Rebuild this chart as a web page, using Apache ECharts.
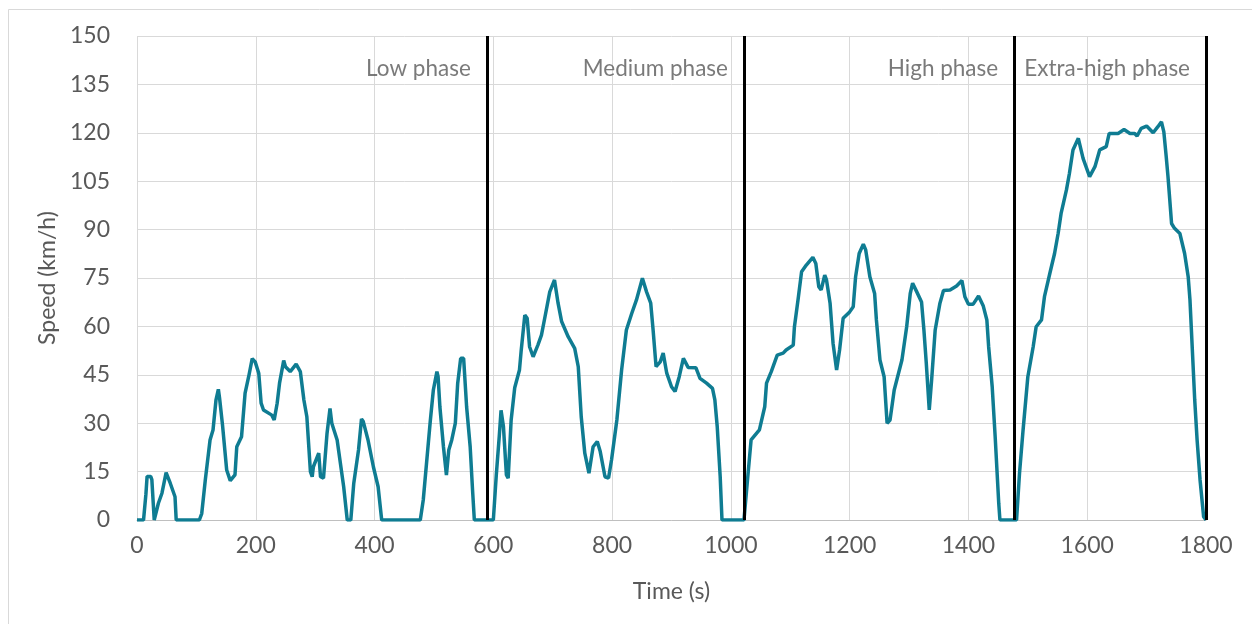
<!DOCTYPE html>
<html>
<head>
<meta charset="utf-8">
<script src="https://cdn.jsdelivr.net/npm/echarts@6/dist/echarts.min.js"></script>
<style>
    html, body { margin: 0; padding: 0; background: #fff; }
    #chart { width: 1252px; height: 624px; }
</style>
</head>
<body>
<div id="chart"></div>
<script>
// WLTC speed trace, one pair of arrays per phase
const lowTime = [0, 11, 15, 17, 23, 25, 29, 30, 36, 42, 49, 56, 64, 66, 105, 109, 115, 123, 128, 133, 137, 139, 144, 151, 157, 165, 168, 176, 182, 188, 194, 199, 205, 209, 213, 227, 231, 236, 240, 247, 250, 258, 268, 275, 281, 286, 292, 295, 297, 306, 309, 314, 320, 325, 328, 337, 348, 354, 360, 365, 373, 378, 381, 389, 398, 406, 412, 477, 482, 488, 494, 499, 505, 507, 510, 516, 521, 525, 530, 536, 540, 545, 550, 555, 561, 565, 568, 589];
const lowSpeed = [0, 0, 8, 13.5, 13.5, 12.5, 0, 0, 5.2, 8.3, 14.7, 11.4, 7.2, 0, 0, 2, 12.4, 24.8, 27.9, 37.2, 40.5, 37.8, 29.4, 15.5, 12.2, 14, 22.7, 25.8, 39.3, 44.4, 50, 49, 45.5, 36.2, 34.1, 32.5, 31, 36.2, 42.4, 49.4, 47.5, 46, 48.3, 46, 37.2, 32, 15, 13.4, 16.5, 20.7, 13.4, 13, 26.9, 34.6, 30, 24.8, 10.3, 0, 0, 11.4, 21.7, 31.3, 30.5, 24.8, 16.5, 10.3, 0, 0, 6.2, 18.6, 31, 40.3, 46, 44.4, 35.1, 22.7, 13.9, 21.7, 24.8, 30, 42.4, 50.1, 50.1, 35.1, 22.7, 9.3, 0, 0];

const medTime = [589, 600, 605, 610, 613, 617, 622, 625, 630, 636, 644, 647, 653, 657, 661, 667, 675, 681, 687, 695, 703, 709, 715, 726, 737, 743, 748, 754, 761, 768, 775, 780, 788, 794, 799, 808, 816, 824, 833, 841, 851, 858, 865, 869, 874, 881, 886, 892, 900, 906, 913, 920, 928, 941, 948, 959, 969, 973, 977, 982, 985, 1022];
const medSpeed = [0, 0, 14, 26, 34, 29, 14, 13, 31, 41, 46.5, 52.7, 63.5, 62.5, 53.7, 50.6, 54.2, 57.3, 63, 70.7, 74.4, 67.2, 61.5, 56.8, 53.2, 47.5, 32, 20.7, 14.5, 22.7, 24.3, 21.2, 13.4, 13, 18.6, 31, 46.5, 58.9, 64, 68.2, 74.9, 70.7, 67.2, 58.9, 47.5, 49, 51.7, 45.5, 41.3, 39.8, 44.4, 50.1, 47.3, 47.2, 43.9, 42.4, 40.8, 37.2, 28.9, 13.4, 0, 0];

const highTime = [1022, 1023, 1029, 1034, 1048, 1057, 1060, 1068, 1078, 1088, 1093, 1105, 1107, 1113, 1119, 1127, 1138, 1143, 1148, 1152, 1158, 1161, 1167, 1172, 1178, 1183, 1189, 1200, 1206, 1210, 1216, 1223, 1227, 1234, 1242, 1245, 1251, 1258, 1263, 1268, 1275, 1288, 1296, 1302, 1306, 1313, 1321, 1325, 1329, 1334, 1338, 1344, 1352, 1358, 1369, 1380, 1389, 1394, 1400, 1408, 1417, 1425, 1431, 1434, 1440, 1445, 1451, 1453, 1477];
const highSpeed = [0, 0, 14.5, 24.8, 27.9, 35.1, 42.4, 46, 51.1, 51.7, 52.7, 54.2, 59.9, 68.2, 76.9, 79, 81.4, 79.5, 72.3, 71.3, 75.9, 74.4, 67.2, 54.8, 46.5, 52.7, 62.5, 64.5, 66.1, 75.4, 82.6, 85.5, 83.7, 75.4, 70.2, 62, 49.6, 44.4, 30, 31, 40.3, 49.6, 59.9, 70.2, 73.4, 70.7, 67.6, 58.9, 48.6, 34.1, 43.4, 58.9, 67.2, 71.1, 71.3, 72.5, 74.2, 69.2, 66.9, 66.9, 69.4, 66.3, 62, 53.7, 41.3, 25.8, 5.2, 0, 0];

const xhTime = [1477, 1481, 1486, 1492, 1500, 1509, 1514, 1523, 1528, 1537, 1545, 1551, 1556, 1565, 1570, 1576, 1585, 1593, 1604, 1613, 1621, 1632, 1637, 1652, 1662, 1672, 1680, 1684, 1691, 1700, 1711, 1719, 1725, 1729, 1733, 1736, 1739, 1742, 1747, 1756, 1764, 1770, 1773, 1777, 1781, 1785, 1790, 1796, 1800];
const xhSpeed = [0, 0, 14.5, 27.9, 44.4, 53.7, 59.9, 62, 69.2, 76.4, 82.6, 88.8, 95, 102.3, 107.4, 114.7, 118.3, 112.1, 106.4, 109.5, 114.7, 115.7, 119.8, 119.8, 121, 119.8, 119.8, 119, 121.4, 122.1, 120, 121.9, 123.4, 120.3, 112.6, 106.4, 99.2, 91.9, 90.4, 88.8, 82.6, 75.4, 68.2, 52.7, 37.2, 24.8, 12.4, 1, 0];

// phase boundaries and names
const phaseEnd = [589, 1022, 1477, 1800];
const phaseNames = ['Low phase', 'Medium phase', 'High phase', 'Extra-high phase'];
const labelSpeed = 140;

const textColor = '#595959';
const font = 'Lato, "Open Sans", sans-serif';

function pairs(t, v) {
    return t.map((x, i) => [x, v[i]]);
}

const speedData = [].concat(
    pairs(lowTime, lowSpeed),
    pairs(medTime, medSpeed),
    pairs(highTime, highSpeed),
    pairs(xhTime, xhSpeed)
);

let myChart = echarts.init(document.getElementById('chart'));
let option = {
    animation: false,
    backgroundColor: '#fff',
    textStyle: { fontFamily: font },
    graphic: [{
        type: 'rect',
        shape: { x: 8.5, y: 9.5, width: 1300, height: 700 },
        style: { fill: 'none', stroke: '#d9d9d9', lineWidth: 1 },
        silent: true
    }],
    grid: {
        left: 137,
        right: 46,
        top: 36,
        bottom: 104
    },
    xAxis: {
        type: 'value',
        min: 0,
        max: 1800,
        interval: 200,
        name: 'Time (s)',
        nameLocation: 'middle',
        nameGap: 60,
        nameTextStyle: { color: textColor, fontSize: 23, fontFamily: font },
        axisLine: { show: true, lineStyle: { color: '#bfbfbf', width: 1 } },
        axisTick: { show: false },
        axisLabel: {
            color: textColor, fontSize: 23, fontFamily: font, margin: 14,
            formatter: v => String(v)
        },
        splitLine: { show: true, lineStyle: { color: '#d9d9d9', width: 1 } }
    },
    yAxis: {
        type: 'value',
        min: 0,
        max: 150,
        interval: 15,
        name: 'Speed (km/h)',
        nameLocation: 'middle',
        nameRotate: 90,
        nameGap: 76,
        nameTextStyle: { color: textColor, fontSize: 23, fontFamily: font },
        axisLine: { show: false },
        axisTick: { show: false },
        axisLabel: { color: textColor, fontSize: 23, fontFamily: font, margin: 27 },
        splitLine: { show: true, lineStyle: { color: '#d9d9d9', width: 1 } }
    },
    series: [
        {
            name: 'Speed',
            type: 'line',
            data: speedData,
            showSymbol: false,
            lineStyle: { color: '#0f7c92', width: 3.5 },
            itemStyle: { color: '#0f7c92' },
            z: 3,
            markLine: {
                silent: true,
                symbol: 'none',
                label: { show: false },
                lineStyle: { color: '#000', width: 3, type: 'solid' },
                data: phaseEnd.map(t => ({ xAxis: t }))
            }
        },
        {
            name: 'Phases',
            type: 'scatter',
            symbolSize: 0,
            silent: true,
            data: phaseEnd.map((t, i) => ({ value: [t, labelSpeed], name: phaseNames[i] })),
            label: {
                show: true,
                position: 'left',
                distance: 16,
                formatter: '{b}',
                color: textColor,
                fontSize: 22.5,
                fontFamily: font
            }
        }
    ]
};
if (option && typeof option === "object") {
    myChart.setOption(option, true);
}
</script>
</body>
</html>
